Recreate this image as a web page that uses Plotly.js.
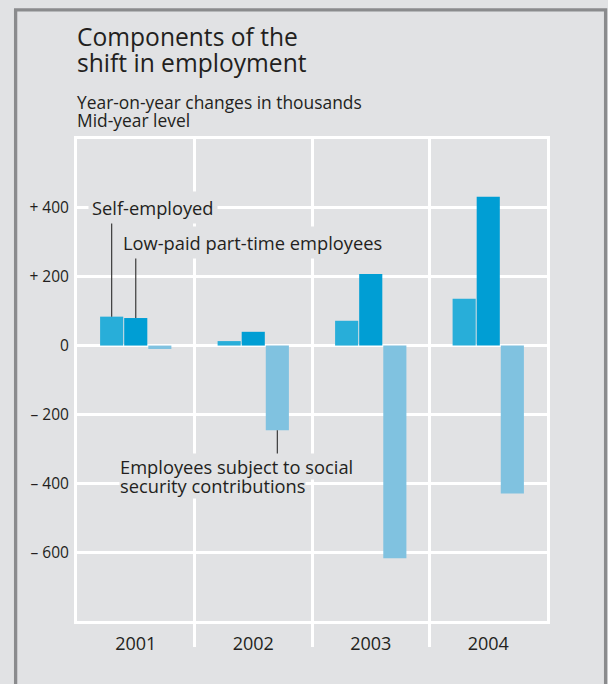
<!DOCTYPE html>
<html>
<head>
<meta charset="utf-8">
<script src="https://cdn.plot.ly/plotly-3.0.1.min.js"></script>
<style>
  html, body { margin: 0; padding: 0; background: #e1e2e4; }
  #chart { width: 608px; height: 684px; }
</style>
</head>
<body>
<div id="chart"></div>
<script>
// ---- Data (thousands, year-on-year change, mid-year level) ----
const years = ['2001', '2002', '2003', '2004'];
const selfEmployed = [84, 13, 72, 136];
const lowPaidPartTime = [80, 40, 208, 432];
const socialSecurity = [-10, -246, -618, -430];
const seriesNames = ['Self-employed', 'Low-paid part-time employees', 'Employees subject to social security contributions'];
const yTickVals = [400, 200, 0, -200, -400, -600];
const yTickText = ['+ 400', '+ 200', '0', '\u2013 200', '\u2013 400', '\u2013 600'];
const titleLines = ['Components of the', 'shift in employment'];
const subtitleLines = ['Year-on-year changes in thousands', 'Mid-year level'];

// ---- Style ----
const FONT = 'Open Sans, Noto Sans, sans-serif';
const TXT = '#231f20';
const BG = '#e1e2e4';
const colors = ['#28aed9', '#009ed4', '#80c2e0'];
const BARGAP = 0.385, GROUPGAP = 0.04;
const slot = (1 - BARGAP) / 3;             // category-units per bar slot
const barX = (catIdx, k) => catIdx + (k - 1) * slot;
const values = [selfEmployed, lowPaidPartTime, socialSecurity];

const traces = values.map((v, k) => ({
  type: 'bar',
  name: seriesNames[k],
  x: years,
  y: v,
  marker: { color: colors[k], line: { width: 0 } },
  hoverinfo: 'x+y+name'
}));
// empty helper trace so the divider axis (x2) is created
traces.push({ type: 'scatter', x: [], y: [], xaxis: 'x2', yaxis: 'y', showlegend: false, hoverinfo: 'skip' });

const annFont = { family: FONT, size: 18.3, color: TXT };
const layout = {
  width: 608, height: 684,
  margin: { l: 77, r: 61, t: 139, b: 63 },
  paper_bgcolor: BG, plot_bgcolor: BG,
  showlegend: false,
  barmode: 'group', bargap: BARGAP, bargroupgap: GROUPGAP,
  font: { family: FONT, color: TXT },
  xaxis: {
    type: 'category', range: [-0.5, 3.5],
    showticklabels: true, tickfont: { family: FONT, size: 18, color: TXT },
    ticks: '', showgrid: false, zeroline: false,
    showline: true, mirror: true, linecolor: '#ffffff', linewidth: 3,
    ticklabelstandoff: 4, fixedrange: true
  },
  xaxis2: {
    overlaying: 'x', anchor: 'y', type: 'linear', range: [-0.5, 3.5],
    tickvals: [0.5, 1.5, 2.5], showticklabels: false,
    ticks: 'outside', ticklen: 25, tickwidth: 3, tickcolor: '#ffffff',
    showgrid: true, gridcolor: '#ffffff', gridwidth: 3,
    showline: false, zeroline: false, fixedrange: true
  },
  yaxis: {
    range: [-800, 600],
    tickvals: yTickVals, ticktext: yTickText,
    tickfont: { family: FONT, size: 15.5, color: TXT },
    ticks: '', showgrid: true, gridcolor: '#ffffff', gridwidth: 3,
    zeroline: false,
    showline: true, mirror: true, linecolor: '#ffffff', linewidth: 3,
    ticklabelstandoff: 2, fixedrange: true
  },
  shapes: [
    // outer grey frame
    { type: 'rect', xref: 'paper', yref: 'paper', x0: -0.1306, x1: 1.1247, y0: -0.3, y1: 1.2678,
      line: { color: '#8a8b8d', width: 3.3 }, fillcolor: 'rgba(0,0,0,0)', layer: 'below' },
    // leader lines
    { type: 'line', xref: 'x2', yref: 'y', x0: barX(0, 0), x1: barX(0, 0), y0: selfEmployed[0], y1: 369,
      line: { color: '#3a3a3a', width: 1.2 } },
    { type: 'line', xref: 'x2', yref: 'y', x0: barX(0, 1), x1: barX(0, 1), y0: lowPaidPartTime[0], y1: 270,
      line: { color: '#3a3a3a', width: 1.2 } },
    { type: 'line', xref: 'x2', yref: 'y', x0: barX(1, 2), x1: barX(1, 2), y0: socialSecurity[1], y1: -319,
      line: { color: '#3a3a3a', width: 1.2 } }
  ],
  annotations: [
    { xref: 'paper', yref: 'paper', x: -0.005, y: 1.2122, xanchor: 'left', yanchor: 'middle',
      text: titleLines[0], showarrow: false, font: { family: FONT, size: 24.6, color: TXT } },
    { xref: 'paper', yref: 'paper', x: -0.005, y: 1.1589, xanchor: 'left', yanchor: 'middle',
      text: titleLines[1], showarrow: false, font: { family: FONT, size: 24.6, color: TXT } },
    { xref: 'paper', yref: 'paper', x: -0.004, y: 1.0774, xanchor: 'left', yanchor: 'middle',
      text: subtitleLines[0], showarrow: false, font: { family: FONT, size: 17.4, color: TXT } },
    { xref: 'paper', yref: 'paper', x: -0.004, y: 1.0392, xanchor: 'left', yanchor: 'middle',
      text: subtitleLines[1], showarrow: false, font: { family: FONT, size: 17.4, color: TXT } },
    // series labels
    { xref: 'x2', yref: 'y', x: -0.406, y: 401, xanchor: 'left', yanchor: 'middle',
      text: seriesNames[0], showarrow: false, font: annFont, bgcolor: BG, borderpad: 3 },
    { xref: 'x2', yref: 'y', x: -0.1426, y: 300, xanchor: 'left', yanchor: 'middle',
      text: seriesNames[1], showarrow: false, font: annFont, bgcolor: BG, borderpad: 3 },
    // second line first, so the first line's background sits on top of it
    { xref: 'x2', yref: 'y', x: -0.1426, y: -406, xanchor: 'left', yanchor: 'middle',
      text: 'security contributions', showarrow: false, font: annFont, bgcolor: BG, borderpad: 0 },
    { xref: 'x2', yref: 'y', x: -0.1426, y: -350, xanchor: 'left', yanchor: 'middle',
      text: 'Employees subject to social', showarrow: false, font: annFont, bgcolor: BG, borderpad: 0 }
  ]
};

Plotly.newPlot('chart', traces, layout, { displayModeBar: false, staticPlot: true });
</script>
</body>
</html>
